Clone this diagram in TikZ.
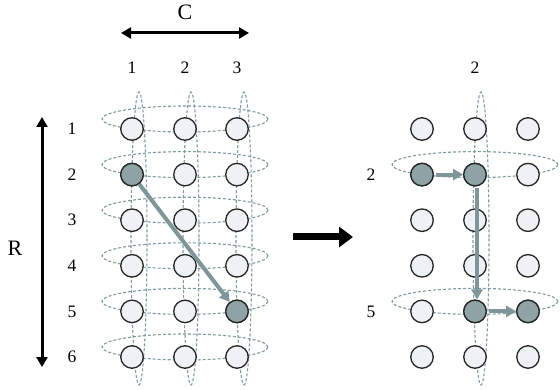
\documentclass[tikz,border=0pt]{standalone}
\usepackage{fontspec}
\setmainfont{Liberation Serif}
\usetikzlibrary{arrows.meta}
\definecolor{dashc}{HTML}{7F9AA0}
\definecolor{arrc}{HTML}{7E9599}
\definecolor{darkfill}{HTML}{8EA3A6}
\definecolor{lightfill}{HTML}{EEF1F5}
\tikzset{
  dot/.style={circle, draw=black!85, line width=1.3pt, fill=lightfill, minimum size=22.5pt, inner sep=0pt},
  hot/.style={dot, fill=darkfill},
  ring/.style={draw=dashc, dashed, dash pattern=on 3pt off 2pt, line width=1.1pt},
  garrow/.style={draw=arrc, line width=4pt, -{Triangle[length=10pt,width=11pt]}},
  barrow/.style={draw=black, line width=7pt, -{Triangle[length=14pt,width=20pt]}},
  dimarrow/.style={draw=black, line width=3pt, {Triangle[length=10pt,width=11pt]}-{Triangle[length=10pt,width=11pt]}},
  lab/.style={font=\fontsize{17.5}{17.5}\selectfont, inner sep=0pt},
  biglab/.style={font=\fontsize{22}{22}\selectfont, inner sep=0pt}
}
\begin{document}
\begin{tikzpicture}[x=1pt,y=-1pt]
\useasboundingbox (0,0) rectangle (560,390);
% left vertical rings
\foreach \cx in {139,191,244} \draw[ring] (\cx,238.5) ellipse [x radius=8, y radius=146.5];
% left horizontal rings
\foreach \k in {0,...,5} \draw[ring] (185,119+45.6*\k) ellipse [x radius=83, y radius=13];
% right rings
\draw[ring] (481,238.5) ellipse [x radius=8, y radius=146.5];
\draw[ring] (475,164.6) ellipse [x radius=83, y radius=13];
\draw[ring] (475,301.4) ellipse [x radius=83, y radius=13];
% left circles
\foreach \r in {1,...,6} {
  \foreach \c/\x in {1/132,2/185,3/237} {
    \node[dot] (L\r\c) at (\x,129+45.6*\r-45.6) {};
  }
}
\node[hot] at (L21) {};
\node[hot] at (L53) {};
% right circles
\foreach \r in {1,...,6} {
  \foreach \c/\x in {1/422,2/475,3/528} {
    \node[dot] (R\r\c) at (\x,129+45.6*\r-45.6) {};
  }
}
\node[hot] at (R21) {};
\node[hot] at (R22) {};
\node[hot] at (R52) {};
\node[hot] at (R53) {};
% gray arrows
\draw[garrow] (L21) -- (L53);
\draw[garrow, shorten <=2pt] (R21) -- (R22);
\draw[garrow, shorten <=2pt] ([xshift=2pt]R22.south) -- ([xshift=2pt]R52.north);
\draw[garrow, shorten <=2pt] (R52) -- (R53);
% big arrow
\coordinate (ba1) at (293,237);
\coordinate (ba2) at (353,237);
\draw[barrow] (ba1) -- (ba2);
% dimension arrows
\coordinate (ca1) at (121,33);
\coordinate (ca2) at (249,33);
\draw[dimarrow] (ca1) -- (ca2);
\node[biglab] (C) at (185,12) {C};
\coordinate (ra1) at (42,117);
\coordinate (ra2) at (42,367);
\draw[dimarrow] (ra1) -- (ra2);
\node[biglab] (R) at (15,248) {R};
% column labels
\node[lab] (cl1) at (132,68) {1};
\node[lab] (cl2) at (185,68) {2};
\node[lab] (cl3) at (237,68) {3};
\node[lab] (rc2) at (475,68) {2};
% row labels
\foreach \r in {1,...,6} \node[lab] (rl\r) at (72,129+45.6*\r-45.6) {\r};
\node[lab] (rr2) at (371,174.6) {2};
\node[lab] (rr5) at (371,311.4) {5};
\end{tikzpicture}
\end{document}
